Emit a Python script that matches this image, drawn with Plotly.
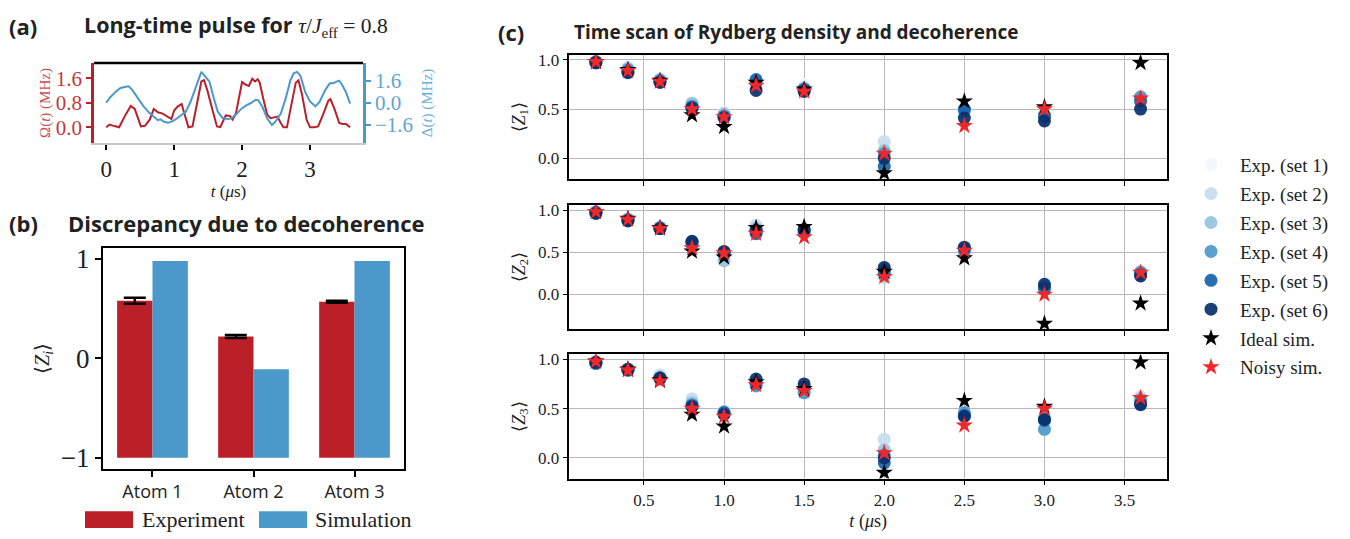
import plotly.graph_objects as go

# ---------------- data ----------------
# panel (a): pulse shapes
omega_t = [0, 0.05, 0.12, 0.19, 0.27, 0.36, 0.42, 0.51, 0.57, 0.64, 0.70, 0.76, 0.83, 0.90, 0.96, 1.0,
           1.05, 1.11, 1.16, 1.21, 1.27, 1.33, 1.40, 1.44, 1.49, 1.57, 1.63, 1.68, 1.76, 1.82, 1.86, 1.91,
           2.0, 2.05, 2.10, 2.15, 2.19, 2.23, 2.26, 2.31, 2.37, 2.42, 2.47, 2.52, 2.57, 2.61, 2.66, 2.73,
           2.79, 2.83, 2.88, 2.95, 3.0, 3.06, 3.12, 3.19, 3.27, 3.30, 3.36, 3.43, 3.48, 3.53, 3.59]
omega_v = [0.0, 0.09, 0.04, 0.0, 0.35, 0.70, 0.60, 0.03, 0.05, 0.25, 0.60, 0.49, 0.45, 0.35, 0.27, 0.55,
           0.68, 0.76, 0.35, 0.0, 0.03, 0.73, 1.50, 1.54, 1.20, 0.52, 0.03, 0.01, 0.39, 0.37, 0.25, 0.46,
           1.48, 1.40, 1.35, 1.59, 1.50, 1.57, 1.46, 0.95, 0.41, 0.30, 0.32, 0.35, 0.14, 0.0, 0.0, 0.73,
           1.46, 1.54, 1.10, 0.25, 0.0, 0.0, 0.03, 0.41, 0.87, 0.92, 0.60, 0.14, 0.11, 0.11, 0.0]
delta_t = [0, 0.06, 0.14, 0.21, 0.29, 0.33, 0.38, 0.46, 0.55, 0.63, 0.70, 0.76, 0.80, 0.85, 0.91, 0.98,
           1.04, 1.11, 1.17, 1.24, 1.30, 1.37, 1.40, 1.45, 1.52, 1.58, 1.64, 1.71, 1.78, 1.84, 1.91, 1.99,
           2.06, 2.13, 2.20, 2.24, 2.30, 2.37, 2.44, 2.49, 2.57, 2.64, 2.71, 2.76, 2.81, 2.86, 2.93, 3.0,
           3.08, 3.14, 3.22, 3.29, 3.34, 3.39, 3.43, 3.48, 3.53, 3.59]
delta_v = [0.0, 0.4, 0.8, 1.07, 1.16, 1.18, 0.95, 0.4, -0.26, -0.71, -1.02, -1.26, -1.2, -1.37, -1.45, -1.33,
           -1.14, -0.9, -0.66, 0.05, 0.88, 1.82, 2.23, 1.94, 1.52, 0.4, -0.62, -1.09, -1.18, -1.15, -0.85, -0.43,
           -0.19, -0.02, 0.21, 0.17, -0.31, -1.14, -1.61, -1.37, -0.78, 0.28, 1.59, 2.13, 2.23, 1.94, 0.76, 0.09,
           -0.26, 0.05, 0.88, 1.4, 1.4, 1.52, 1.59, 1.23, 0.76, -0.07]

# panel (b)
atoms = ["Atom 1", "Atom 2", "Atom 3"]
atom_pos = [0, 1, 2]
exp_vals = [0.58, 0.22, 0.57]
exp_err = [0.03, 0.015, 0.01]
sim_vals = [0.98, -0.11, 0.98]
bar_base = -1

# panel (c)
times = [0.2, 0.4, 0.6, 0.8, 1.0, 1.2, 1.5, 2.0, 2.5, 3.0, 3.6]
z1_exp = [
    [0.99, 0.93, 0.81, 0.56, 0.47, 0.78, 0.75, 0.10, 0.48, 0.45, 0.63],
    [0.98, 0.92, 0.80, 0.55, 0.46, 0.77, 0.72, 0.17, 0.47, 0.44, 0.63],
    [0.98, 0.91, 0.80, 0.56, 0.45, 0.78, 0.71, 0.08, 0.48, 0.43, 0.62],
    [0.97, 0.90, 0.79, 0.53, 0.43, 0.76, 0.70, 0.05, 0.49, 0.44, 0.62],
    [0.98, 0.88, 0.78, 0.52, 0.42, 0.80, 0.70, -0.08, 0.50, 0.42, 0.58],
    [0.97, 0.87, 0.77, 0.51, 0.41, 0.69, 0.68, 0.0, 0.41, 0.38, 0.50],
]
z2_exp = [
    [0.99, 0.91, 0.81, 0.60, 0.45, 0.82, 0.76, 0.22, 0.47, 0.07, 0.22],
    [0.98, 0.90, 0.80, 0.60, 0.47, 0.82, 0.75, 0.20, 0.46, 0.06, 0.22],
    [0.98, 0.89, 0.79, 0.58, 0.40, 0.78, 0.74, 0.22, 0.50, 0.08, 0.27],
    [0.97, 0.88, 0.79, 0.61, 0.48, 0.75, 0.73, 0.25, 0.52, 0.07, 0.26],
    [0.97, 0.88, 0.78, 0.62, 0.50, 0.72, 0.76, 0.28, 0.54, 0.08, 0.24],
    [0.96, 0.87, 0.78, 0.63, 0.51, 0.76, 0.77, 0.32, 0.56, 0.12, 0.22],
]
z3_exp = [
    [0.99, 0.91, 0.85, 0.58, 0.47, 0.76, 0.70, 0.12, 0.46, 0.40, 0.61],
    [0.98, 0.90, 0.84, 0.60, 0.46, 0.75, 0.68, 0.19, 0.45, 0.41, 0.62],
    [0.97, 0.90, 0.82, 0.56, 0.47, 0.74, 0.67, 0.08, 0.44, 0.40, 0.60],
    [0.96, 0.89, 0.81, 0.54, 0.45, 0.73, 0.66, 0.03, 0.46, 0.29, 0.58],
    [0.96, 0.89, 0.80, 0.53, 0.46, 0.76, 0.72, -0.05, 0.43, 0.38, 0.55],
    [0.97, 0.90, 0.81, 0.52, 0.44, 0.80, 0.75, 0.0, 0.42, 0.39, 0.54],
]
z1_ideal = [0.98, 0.90, 0.79, 0.44, 0.32, 0.77, 0.70, -0.15, 0.58, 0.52, 0.97]
z1_noisy = [0.98, 0.89, 0.78, 0.50, 0.42, 0.74, 0.68, 0.05, 0.33, 0.50, 0.61]
z2_ideal = [0.98, 0.90, 0.79, 0.51, 0.44, 0.79, 0.80, 0.27, 0.43, -0.345, -0.105]
z2_noisy = [0.98, 0.89, 0.78, 0.55, 0.49, 0.72, 0.68, 0.21, 0.52, 0.0, 0.26]
z3_ideal = [0.98, 0.90, 0.79, 0.44, 0.32, 0.77, 0.70, -0.15, 0.58, 0.52, 0.97]
z3_noisy = [0.98, 0.89, 0.78, 0.50, 0.42, 0.74, 0.68, 0.05, 0.33, 0.50, 0.61]
set_labels = ["Exp. (set 1)", "Exp. (set 2)", "Exp. (set 3)", "Exp. (set 4)", "Exp. (set 5)", "Exp. (set 6)"]

# ---------------- style ----------------
W, H = 1350, 539
SERIF = "Liberation Serif"
SANS = "Open Sans"
RED = "#b8202a"
BLUE = "#4a99cd"
EXP_RED = "#bb1f28"
SIM_BLUE = "#4b98ca"
set_colors = ["#f2f7fd", "#c8dcf0", "#93c4de", "#4a98c9", "#1764ab", "#08306b"]
STAR_RED = "#f0282c"
TXT = "#222222"
GRID = "#b8b8b8"


def px_x(p):
    return p / W


def px_y(p):
    return 1 - p / H


fig = go.Figure()

# ---------------- panel (a) ----------------
fig.add_trace(go.Scatter(x=omega_t, y=omega_v, mode="lines", line=dict(color=RED, width=2),
                         xaxis="x", yaxis="y", showlegend=False))
fig.add_trace(go.Scatter(x=delta_t, y=delta_v, mode="lines", line=dict(color=BLUE, width=2),
                         xaxis="x", yaxis="y2", showlegend=False))

# ---------------- panel (b) ----------------
fig.add_trace(go.Bar(x=atom_pos, y=[v - bar_base for v in exp_vals], base=bar_base, width=0.35, offset=-0.35,
                     marker=dict(color=EXP_RED, line=dict(width=0)),
                     error_y=dict(type="data", array=exp_err, color="black", thickness=2.5, width=11),
                     xaxis="x2", yaxis="y3", showlegend=False))
fig.add_trace(go.Bar(x=atom_pos, y=[v - bar_base for v in sim_vals], base=bar_base, width=0.35, offset=0.0,
                     marker=dict(color=SIM_BLUE, line=dict(width=0)),
                     xaxis="x2", yaxis="y3", showlegend=False))

# ---------------- panel (c) ----------------
groups = [(z1_exp, z1_ideal, z1_noisy, "x3", "y4"),
          (z2_exp, z2_ideal, z2_noisy, "x4", "y5"),
          (z3_exp, z3_ideal, z3_noisy, "x5", "y6")]
for gi, (exp, ideal, noisy, xa, ya) in enumerate(groups):
    first = gi == 0
    for si, vals in enumerate(exp):
        fig.add_trace(go.Scatter(x=times, y=vals, mode="markers", name=set_labels[si],
                                 marker=dict(color=set_colors[si], size=13, opacity=0.92, line=dict(width=0)),
                                 legendgroup=f"s{si}", showlegend=first, xaxis=xa, yaxis=ya))
    fig.add_trace(go.Scatter(x=times, y=ideal, mode="markers", name="Ideal sim.",
                             marker=dict(color="black", symbol="star", size=13, line=dict(width=0)),
                             legendgroup="ideal", showlegend=first, xaxis=xa, yaxis=ya))
    fig.add_trace(go.Scatter(x=times, y=noisy, mode="markers", name="Noisy sim.",
                             marker=dict(color=STAR_RED, symbol="star", size=13, line=dict(width=0)),
                             legendgroup="noisy", showlegend=first, xaxis=xa, yaxis=ya))

# ---------------- axes ----------------
serif_tick = lambda s: dict(family=SERIF, size=s, color=TXT)

layout = dict(
    width=W, height=H,
    margin=dict(l=0, r=0, t=0, b=0),
    paper_bgcolor="white", plot_bgcolor="white",
    barmode="overlay",
    showlegend=True,
)

# (a)
layout["xaxis"] = dict(domain=[px_x(94), px_x(363)], anchor="y", range=[-0.18, 3.78],
                       tickvals=[0, 1, 2, 3], ticks="outside", ticklen=5, tickcolor="black", tickwidth=1.5,
                       showline=True, linecolor="#c8c8c8", linewidth=1.5, showgrid=False, zeroline=False,
                       tickfont=serif_tick(23),
                       title=dict(text="<i>t</i> (<i>μ</i>s)", font=dict(family=SERIF, size=17, color=TXT), standoff=1))
layout["yaxis"] = dict(domain=[px_y(141), px_y(60)], anchor="x", range=[-0.51, 2.1],
                       tickvals=[0, 0.8, 1.6], ticktext=["0.0", "0.8", "1.6"], ticks="outside", ticklen=5,
                       tickcolor=RED, tickwidth=1.5, showline=True, linecolor=RED, linewidth=2.5,
                       showgrid=False, zeroline=False, tickfont=dict(family=SERIF, size=21, color="#bf3a3a"),
                       title=dict(text="Ω(<i>t</i>) (MHz)", font=dict(family=SERIF, size=15, color="#c85050"), standoff=2))
layout["yaxis2"] = dict(domain=[px_y(141), px_y(60)], anchor="x", overlaying="y", side="right",
                        range=[-2.9, 2.86], tickvals=[-1.6, 0, 1.6], ticktext=["−1.6", "0.0", "1.6"],
                        ticks="outside", ticklen=5, tickcolor=BLUE, tickwidth=1.5, showline=True,
                        linecolor=BLUE, linewidth=2.5, showgrid=False, zeroline=False,
                        tickfont=dict(family=SERIF, size=21, color="#5ea5d6"),
                        title=dict(text="Δ(<i>t</i>) (MHz)", font=dict(family=SERIF, size=15, color="#6aaedb"), standoff=10))

# (b)
layout["xaxis2"] = dict(domain=[px_x(103), px_x(404)], anchor="y3", range=[-0.49, 2.49],
                        tickvals=atom_pos, ticktext=atoms, ticks="outside", ticklen=6, tickwidth=2,
                        tickcolor="black", showline=True, linecolor="black", linewidth=2, mirror=True,
                        showgrid=False, zeroline=False, tickfont=dict(family=SANS, size=18, color=TXT))
layout["yaxis3"] = dict(domain=[px_y(471.7), px_y(247.7)], anchor="x2", range=[-1.11, 1.11],
                        tickvals=[-1, 0, 1], ticks="outside", ticklen=6, tickwidth=2, tickcolor="black",
                        showline=True, linecolor="black", linewidth=2, mirror=True, showgrid=False,
                        zeroline=False, tickfont=serif_tick(27),
                        title=dict(text="⟨<i>Z<sub>i</sub></i>⟩", font=dict(family=SERIF, size=20, color=TXT), standoff=6))

# (c)
c_x_dom = [px_x(569.3), px_x(1167)]
c_rows = [(51.7, 177.7, [-0.21, 1.05], "1"), (204, 330, [-0.41, 1.06], "2"), (355.7, 481.7, [-0.21, 1.05], "3")]
for i, (top, bot, yr, k) in enumerate(c_rows):
    xa = f"xaxis{3 + i}"
    ya = f"yaxis{4 + i}"
    last = i == 2
    layout[xa] = dict(domain=c_x_dom, anchor=f"y{4 + i}", range=[0.034, 3.765],
                      tickvals=[0.5, 1.0, 1.5, 2.0, 2.5, 3.0, 3.5],
                      ticktext=["0.5", "1.0", "1.5", "2.0", "2.5", "3.0", "3.5"],
                      showticklabels=last, ticks="outside", ticklen=5, tickwidth=1.2, tickcolor="black",
                      showline=True, linecolor="black", linewidth=1.5, mirror=True,
                      showgrid=True, gridcolor=GRID, gridwidth=1, zeroline=False, tickfont=serif_tick(17))
    if last:
        layout[xa]["title"] = dict(text="<i>t</i> (<i>μ</i>s)", font=dict(family=SERIF, size=18, color=TXT), standoff=6)
    layout[ya] = dict(domain=[px_y(bot), px_y(top)], anchor=f"x{3 + i}", range=yr,
                      tickvals=[0, 0.5, 1.0], ticktext=["0.0", "0.5", "1.0"], ticks="outside", ticklen=5,
                      tickwidth=1.2, tickcolor="black", showline=True, linecolor="black", linewidth=1.5,
                      mirror=True, showgrid=True, gridcolor=GRID, gridwidth=1, zeroline=False,
                      tickfont=serif_tick(17),
                      title=dict(text=f"⟨<i>Z</i><sub>{k}</sub>⟩", font=dict(family=SERIF, size=18, color=TXT), standoff=8))

layout["legend"] = dict(x=px_x(1182), y=px_y(144), xanchor="left", yanchor="top",
                        font=dict(family=SERIF, size=19, color=TXT), bgcolor="rgba(0,0,0,0)",
                        traceorder="grouped", tracegroupgap=1.2, itemwidth=48)

fig.update_layout(**layout)

# top spine of panel (a)
fig.add_shape(type="line", xref="x domain", yref="y domain", x0=0, x1=1, y0=1, y1=1,
              line=dict(color="black", width=2.5))

# titles
ann = [
    ("<b>(a)</b>", 7, 22, 22), ("<b>(b)</b>", 7, 222, 22), ("<b>(c)</b>", 496, 28, 22),
    ("<b>Long-time pulse for</b> <span style='font-family:Liberation Serif'><i>τ</i>/<i>J</i><sub>eff</sub> = 0.8</span>", 82, 22, 21.5),
    ("<b>Discrepancy due to decoherence</b>", 66, 222, 22),
    ("<b>Time scan of Rydberg density and decoherence</b>", 572, 28, 19),
]
for text, xp, yp, fs in ann:
    fig.add_annotation(text=text, x=px_x(xp), y=px_y(yp), xref="paper", yref="paper",
                       xanchor="left", yanchor="middle", showarrow=False,
                       font=dict(family=SANS, size=fs, color=TXT))

# panel (b) legend
for label, color, x0, tx in [("Experiment", EXP_RED, 85, 140), ("Simulation", SIM_BLUE, 259, 313)]:
    fig.add_shape(type="rect", xref="paper", yref="paper", x0=px_x(x0), x1=px_x(x0 + 48),
                  y0=px_y(532), y1=px_y(515), fillcolor=color, line=dict(width=0))
    fig.add_annotation(text=label, x=px_x(tx), y=px_y(523), xref="paper", yref="paper",
                       xanchor="left", yanchor="middle", showarrow=False,
                       font=dict(family=SERIF, size=22, color=TXT))

fig.write_html("out.html")
